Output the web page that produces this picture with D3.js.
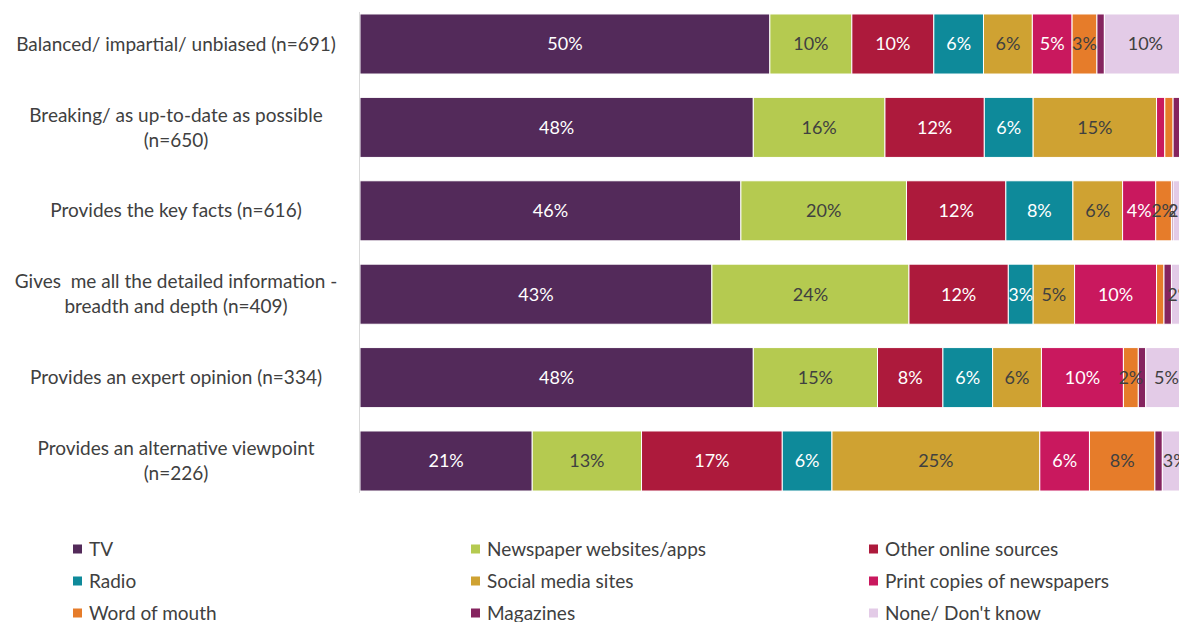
<!DOCTYPE html>
<html>
<head>
<meta charset="utf-8">
<script src="https://cdn.jsdelivr.net/npm/d3@7"></script>
<style>
  html, body { margin: 0; padding: 0; background: #fff; }
  svg { display: block; font-family: Lato, "Noto Sans", sans-serif; }
</style>
</head>
<body>
<div id="chart"></div>
<script>
// categories (rows, top to bottom) — label lines
const categories = [
  ['Balanced/ impartial/ unbiased (n=691)'],
  ['Breaking/ as up-to-date as possible', '(n=650)'],
  ['Provides the key facts (n=616)'],
  ['Gives  me all the detailed information -', 'breadth and depth (n=409)'],
  ['Provides an expert opinion (n=334)'],
  ['Provides an alternative viewpoint', '(n=226)']
];

const seriesNames = ['TV', 'Newspaper websites/apps', 'Other online sources', 'Radio',
  'Social media sites', 'Print copies of newspapers', 'Word of mouth', 'Magazines', 'None/ Don\'t know'];

const seriesColors = ['#532a5a', '#b5ca50', '#ad1a3c', '#0e8a9a', '#cfa232', '#c9185e', '#e67c2a', '#85245f', '#e3cbe7'];

// label text colour per series (white on dark fills)
const labelColors = ['#fff', '#404040', '#fff', '#fff', '#404040', '#fff', '#404040', '#fff', '#404040'];

// percentage shares, one array per series, in row order
const tv         = [49.5, 47.5, 46.0, 42.5, 47.5, 20.8];
const newsSites  = [ 9.9, 15.9, 20.0, 23.8, 15.0, 13.2];
const otherOnline= [ 9.9, 12.0, 12.0, 12.0,  7.9, 17.0];
const radio      = [ 6.0,  5.9,  8.1,  3.0,  6.0,  6.0];
const social     = [ 5.9, 14.9,  6.0,  5.0,  5.9, 25.1];
const printCopies= [ 4.8,  1.0,  4.0,  9.9,  9.9,  6.0];
const wordOfMouth= [ 3.0,  1.0,  1.9,  0.9,  1.8,  7.9];
const magazines  = [ 0.9,  0.9,  0.2,  0.9,  0.9,  0.9];
const noneDK     = [ 9.9,  0.9,  1.8,  2.0,  5.0,  3.1];

const seriesValues = [tv, newsSites, otherOnline, radio, social, printCopies, wordOfMouth, magazines, noneDK];

const width = 1179, height = 622;

const svg = d3.select('#chart').append('svg')
  .attr('width', width)
  .attr('height', height);

const x = d3.scaleLinear().domain([0, 100]).range([360, 1188]);
const y = d3.scaleBand()
  .domain(d3.range(categories.length))
  .range([2.3, 502.7])
  .paddingInner(0.28)
  .paddingOuter(0.14);

// table for stacking
const table = categories.map((c, i) => {
  const row = { idx: i };
  seriesNames.forEach((s, j) => { row[s] = seriesValues[j][i]; });
  return row;
});
const stacked = d3.stack().keys(seriesNames)(table);

const layers = svg.append('g').selectAll('g')
  .data(stacked)
  .join('g')
  .attr('fill', (d, i) => seriesColors[i]);

layers.selectAll('rect')
  .data(d => d)
  .join('rect')
  .attr('x', d => x(d[0]))
  .attr('y', d => y(d.data.idx))
  .attr('width', d => x(d[1]) - x(d[0]))
  .attr('height', y.bandwidth())
  .attr('stroke', '#fff')
  .attr('stroke-width', 1);

// value labels
stacked.forEach((layer, i) => {
  svg.append('g').selectAll('text')
    .data(layer.filter(d => d[1] - d[0] >= 1.5))
    .join('text')
    .attr('x', d => (x(d[0]) + x(d[1])) / 2)
    .attr('y', d => y(d.data.idx) + y.bandwidth() / 2)
    .attr('dy', '0.35em')
    .attr('text-anchor', 'middle')
    .attr('font-size', 18)
    .attr('fill', labelColors[i])
    .text(d => Math.round(d[1] - d[0]) + '%');
});

// category axis line
svg.append('line')
  .attr('x1', 359.5).attr('x2', 359.5)
  .attr('y1', y(0) - 2).attr('y2', y(categories.length - 1) + y.bandwidth() + 2)
  .attr('stroke', '#d9d9d9')
  .attr('stroke-width', 1);

// category labels
const catG = svg.append('g').selectAll('text')
  .data(categories)
  .join('text')
  .attr('text-anchor', 'middle')
  .attr('font-size', 19)
  .attr('fill', '#404040')
  .style('white-space', 'pre')
  .attr('transform', (d, i) => `translate(176,${y(i) + y.bandwidth() / 2})`);

catG.selectAll('tspan')
  .data(d => d.map((t, k) => ({ t, k, n: d.length })))
  .join('tspan')
  .attr('x', 0)
  .attr('y', d => (d.k - (d.n - 1) / 2) * 25)
  .attr('dy', '0.35em')
  .text(d => d.t);

// legend: three columns
const legendCols = [73, 471, 869];
const legendRows = [549, 581, 613];
const legend = svg.append('g').selectAll('g')
  .data(seriesNames)
  .join('g')
  .attr('transform', (d, i) => `translate(${legendCols[i % 3]},${legendRows[Math.floor(i / 3)]})`);

legend.append('rect')
  .attr('x', 0).attr('y', -4.5)
  .attr('width', 9).attr('height', 9)
  .attr('fill', (d, i) => seriesColors[i]);

legend.append('text')
  .attr('x', 16)
  .attr('dy', '0.35em')
  .attr('font-size', 19)
  .attr('fill', '#404040')
  .text(d => d);
</script>
</body>
</html>
